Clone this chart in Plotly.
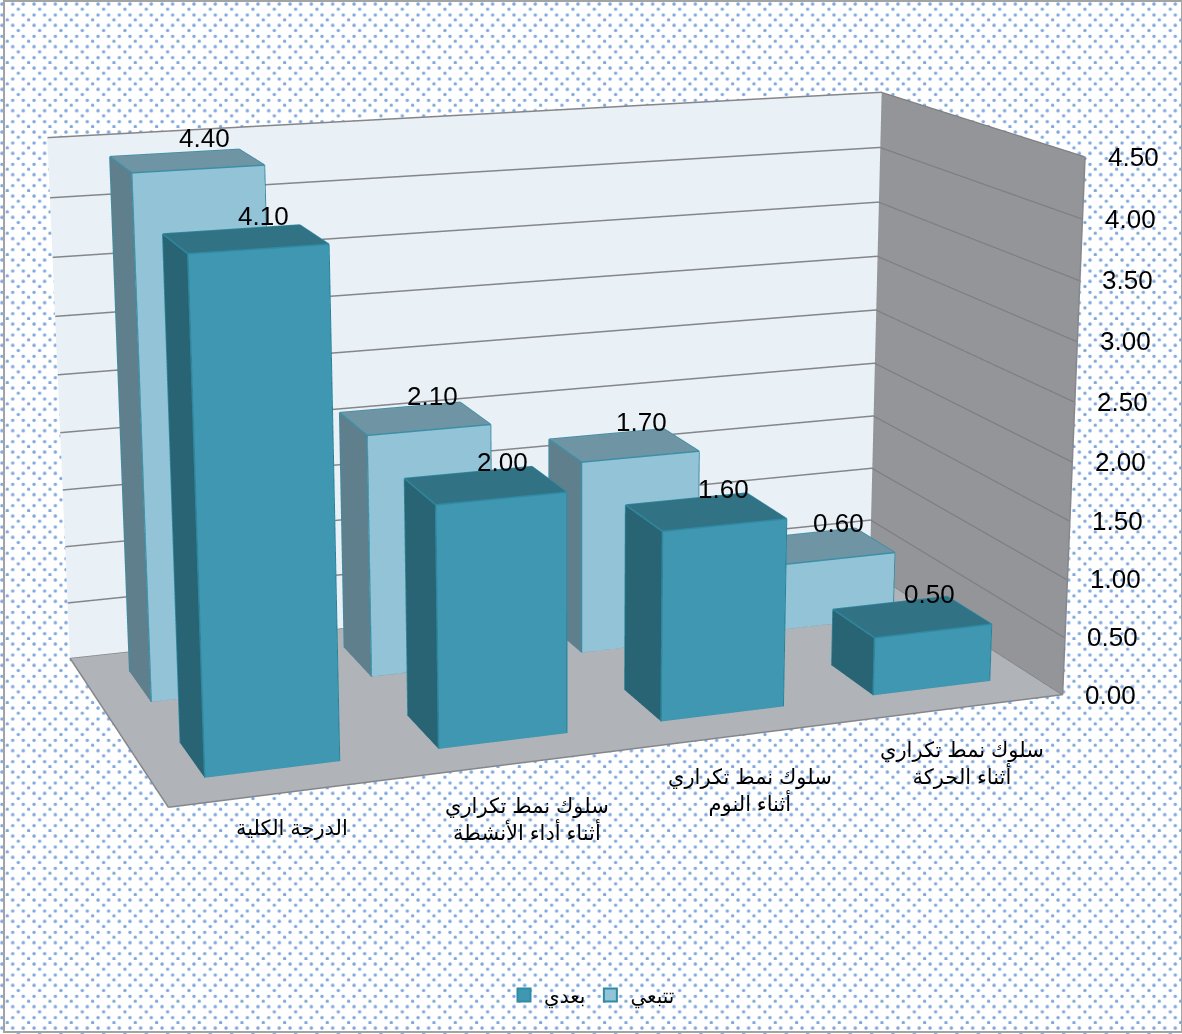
import base64
import plotly.graph_objects as go

categories = ["الدرجة الكلية", "سلوك نمط تكراري<br>أثناء أداء الأنشطة", "سلوك نمط تكراري<br>أثناء النوم", "سلوك نمط تكراري<br>أثناء الحركة"]
after_values = [4.10, 2.00, 1.60, 0.50]
follow_values = [4.40, 2.10, 1.70, 0.60]
series_names = ["بعدي", "تتبعي"]
z_ticks = [0, 0.5, 1, 1.5, 2, 2.5, 3, 3.5, 4, 4.5]

FONT = "Liberation Sans, Arial, DejaVu Sans, sans-serif"
PAGE_W, PAGE_H = 1182, 1034
FIG_W, FIG_H = 1208, 2628
OFF_X, OFF_Y = 26, 846
XMAX, YMAX, ZMAX = 4.0, 2.0, 4.5
PAD = 0.01
BAR_X = (0.215, 0.785)
BAR_Y = (0.28, 0.72)

STYLE = {
    0: dict(front="#3f97b2", top="#327285", side="#286474", edge="#2f8ba3"),
    1: dict(front="#93c3d6", top="#6f95a5", side="#5f7f8c", edge="#3a8fa6"),
}
FLAT = dict(ambient=1, diffuse=0, specular=0, roughness=1, fresnel=0)


def box_mesh(row, values, style, name):
    xs, ys, zs, ii, jj, kk, colors = [], [], [], [], [], [], []
    ex, ey, ez = [], [], []
    for c, val in enumerate(values):
        x0, x1 = c + BAR_X[0], c + BAR_X[1]
        y0, y1 = row + BAR_Y[0], row + BAR_Y[1]
        b = len(xs)
        xs += [x0, x1, x1, x0, x0, x1, x1, x0]
        ys += [y0, y0, y1, y1, y0, y0, y1, y1]
        zs += [0, 0, 0, 0, val, val, val, val]
        quads = [((0, 1, 5, 4), style["front"]), ((4, 5, 6, 7), style["top"]), ((0, 4, 7, 3), style["side"]),
                 ((1, 2, 6, 5), style["side"]), ((3, 7, 6, 2), style["side"]), ((0, 3, 2, 1), style["side"])]
        for q, col in quads:
            ii += [b + q[0], b + q[0]]
            jj += [b + q[1], b + q[2]]
            kk += [b + q[2], b + q[3]]
            colors += [col, col]
        for a, d in [(0, 1), (1, 5), (5, 4), (4, 0), (4, 7), (7, 6), (6, 5), (0, 3), (3, 7)]:
            ex += [xs[b + a], xs[b + d], None]
            ey += [ys[b + a], ys[b + d], None]
            ez += [zs[b + a], zs[b + d], None]
    mesh = go.Mesh3d(x=xs, y=ys, z=zs, i=ii, j=jj, k=kk, facecolor=colors, flatshading=True,
                     lighting=FLAT, hoverinfo="skip", showlegend=False, name=name)
    edges = go.Scatter3d(x=ex, y=ey, z=ez, mode="lines", line=dict(color=style["edge"], width=3),
                         hoverinfo="skip", showlegend=False)
    return [mesh, edges]


def plane(x, y, z, color):
    return go.Mesh3d(x=x, y=y, z=z, i=[0, 0], j=[1, 2], k=[2, 3], facecolor=[color, color],
                     flatshading=True, lighting=FLAT, hoverinfo="skip", showlegend=False)


fig = go.Figure()
fig.add_trace(plane([0, XMAX, XMAX, 0], [YMAX] * 4, [0, 0, ZMAX, ZMAX], "#e9f0f6"))
fig.add_trace(plane([XMAX] * 4, [0, YMAX, YMAX, 0], [0, 0, ZMAX, ZMAX], "#939599"))
fig.add_trace(plane([0, XMAX, XMAX, 0], [0, 0, YMAX, YMAX], [0] * 4, "#b0b4b8"))

gx, gy, gz, rx, ry, rz = [], [], [], [], [], []
for t in z_ticks:
    gx += [0, XMAX, None]
    gy += [YMAX - 0.004, YMAX - 0.004, None]
    gz += [t, t, None]
    rx += [XMAX - 0.004, XMAX - 0.004, None]
    ry += [YMAX, 0, None]
    rz += [t, t, None]
fig.add_trace(go.Scatter3d(x=gx, y=gy, z=gz, mode="lines", line=dict(color="#85868a", width=3),
                           hoverinfo="skip", showlegend=False))
fig.add_trace(go.Scatter3d(x=rx, y=ry, z=rz, mode="lines", line=dict(color="#7e7f82", width=2.5),
                           hoverinfo="skip", showlegend=False))
fig.add_trace(go.Scatter3d(x=[0, XMAX, None, 0, 0, None, XMAX, XMAX], y=[0, 0, None, 0, YMAX, None, 0, 0],
                           z=[0.002, 0.002, None, 0.002, 0.002, None, 0, ZMAX],
                           mode="lines", line=dict(color="#85868a", width=3), hoverinfo="skip", showlegend=False))

for tr in box_mesh(1, follow_values, STYLE[1], series_names[1]):
    fig.add_trace(tr)
for tr in box_mesh(0, after_values, STYLE[0], series_names[0]):
    fig.add_trace(tr)

for row in [0, 1]:
    fig.add_trace(go.Scatter3d(x=[None], y=[None], z=[None], mode="markers", name=series_names[row],
                               marker=dict(symbol="square", size=13, color=STYLE[row]["front"],
                                           line=dict(color="#2f8ba3", width=2)),
                               showlegend=True, hoverinfo="skip"))

notes = []
for row, values in [(1, follow_values), (0, after_values)]:
    for c, val in enumerate(values):
        notes.append(dict(x=c + 0.5, y=row + 0.5, z=val, text=f"{val:.2f}", showarrow=False,
                          xshift=18, yshift=23, font=dict(size=26, color="black", family=FONT)))
for t in z_ticks:
    notes.append(dict(x=XMAX, y=0, z=t, text=f"{t:.2f}", showarrow=False, xshift=48, yshift=0,
                      font=dict(size=26, color="black", family=FONT)))
for c, label in enumerate(categories):
    notes.append(dict(x=c + 0.5, y=0, z=0, text=label, showarrow=False, xshift=2,
                      yshift=-56 if "<br>" in label else -36, align="center",
                      font=dict(size=21, color="black", family=FONT)))

tile = 64 / 3
dots = [(12.7, 4), (23.3 - tile, 4), (18.3, 9.3), (12.7, 15), (23.3 - tile, 15), (7.3, 20)]
circles = "".join(f'<circle cx="{(x % tile):.2f}" cy="{y:.2f}" r="1.7" fill="#7fa8de"/>' for x, y in dots)
svg = (f'<svg xmlns="http://www.w3.org/2000/svg" width="{PAGE_W}" height="{PAGE_H}">'
       f'<defs><pattern id="p" width="{tile:.4f}" height="{tile:.4f}" patternUnits="userSpaceOnUse">{circles}</pattern></defs>'
       f'<rect width="{PAGE_W}" height="{PAGE_H}" fill="#ffffff"/>'
       f'<rect width="{PAGE_W}" height="{PAGE_H}" fill="url(#p)"/>'
       f'<rect x="4" y="1" width="{PAGE_W - 4}" height="{PAGE_H - 3}" fill="none" stroke="#a3a3a3" stroke-width="2"/></svg>')
src = "data:image/svg+xml;base64," + base64.b64encode(svg.encode()).decode()

hidden = dict(visible=False, showspikes=False, autorange=False)
scale = 1 + 2 * PAD
fig.update_layout(
    width=FIG_W, height=FIG_H, autosize=False, margin=dict(l=0, r=0, t=0, b=0, pad=0),
    paper_bgcolor="white", showlegend=True, hovermode=False,
    legend=dict(orientation="h", x=(592 + OFF_X) / FIG_W, xanchor="center", y=1 - (995 + OFF_Y) / FIG_H,
                yanchor="middle", font=dict(size=20, color="black", family=FONT), bgcolor="rgba(0,0,0,0)"),
    images=[dict(source=src, xref="paper", yref="paper", x=OFF_X / FIG_W, y=1 - OFF_Y / FIG_H,
                 sizex=PAGE_W / FIG_W, sizey=PAGE_H / FIG_H, xanchor="left", yanchor="top",
                 sizing="stretch", layer="below")],
    scene=dict(
        domain=dict(x=[0, 1], y=[0, 1]), bgcolor="rgba(0,0,0,0)",
        xaxis=dict(range=[-XMAX * PAD, XMAX * scale - XMAX * PAD], **hidden),
        yaxis=dict(range=[-YMAX * PAD, YMAX * scale - YMAX * PAD], **hidden),
        zaxis=dict(range=[-ZMAX * PAD, ZMAX * scale - ZMAX * PAD], **hidden),
        aspectmode="manual", aspectratio=dict(x=0.875 * scale, y=0.436 * scale, z=0.522 * scale),
        camera=dict(eye=dict(x=-0.9875, y=-2.774, z=0.739), center=dict(x=0.016, y=-0.014, z=-0.048),
                    up=dict(x=0, y=0, z=1), projection=dict(type="perspective")),
        annotations=notes,
    ),
)

post = ("var g=document.getElementById('{plot_id}');g.style.position='absolute';"
        f"g.style.left='-{OFF_X}px';g.style.top='-{OFF_Y}px';"
        "document.documentElement.style.overflow='hidden';document.body.style.overflow='hidden';"
        "document.body.style.margin='0';")
fig.write_html("out.html", post_script=post, default_width=f"{FIG_W}px", default_height=f"{FIG_H}px")
